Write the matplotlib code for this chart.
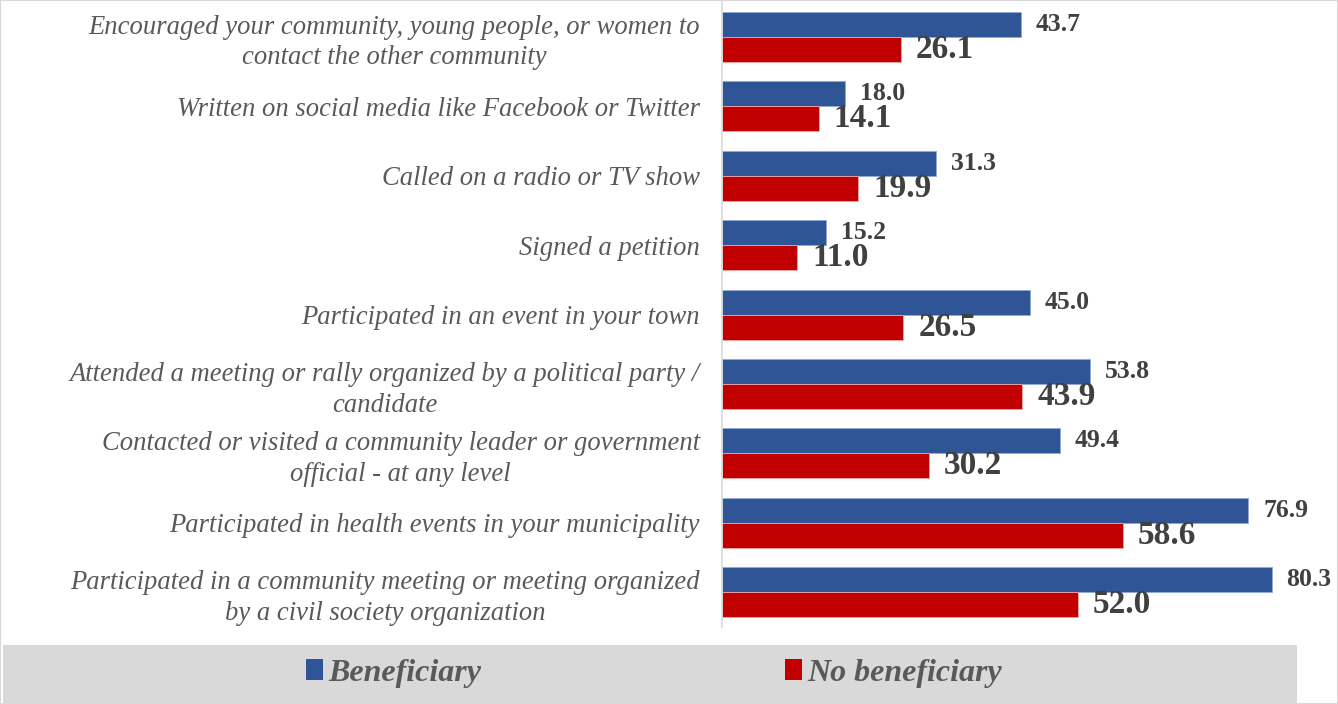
import matplotlib.pyplot as plt
import numpy as np
from matplotlib.patches import Rectangle, Patch


categories = [
    'Encouraged your community, young people, or women to\ncontact the other community',
    'Written on social media like Facebook or Twitter',
    'Called on a radio or TV show',
    'Signed a petition',
    'Participated in an event in your town',
    'Attended a meeting or rally organized by a political party /\ncandidate',
    'Contacted or visited a community leader or government\nofficial - at any level',
    'Participated in health events in your municipality',
    'Participated in a community meeting or meeting organized\nby a civil society organization',
]
beneficiary = [43.7, 18.0, 31.3, 15.2, 45.0, 53.8, 49.4, 76.9, 80.3]
no_beneficiary = [26.1, 14.1, 19.9, 11.0, 26.5, 43.9, 30.2, 58.6, 52.0]

BLUE = '#2F5597'
RED = '#C00000'
LABEL_GREY = '#595959'
VALUE_GREY = '#404040'
LINE_GREY = '#D9D9D9'

plt.rcParams['font.family'] = ['Liberation Serif', 'DejaVu Serif']

W, H = 1338, 704
fig = plt.figure(figsize=(W / 100, H / 100), dpi=100)

# plot area in pixel terms: axis line at x=722, rows from top to y=627
left, right, top, bottom = 722, 1338, 2, 627
ax = fig.add_axes([left / W, 1 - bottom / H, (right - left) / W, (bottom - top) / H])

y = np.arange(len(categories))
bh = 0.36
ax.barh(y - bh / 2, beneficiary, height=bh, color=BLUE, edgecolor='#8FAADC', linewidth=0.6)
ax.barh(y + bh / 2, no_beneficiary, height=bh, color=RED, edgecolor='#F4A6A6', linewidth=0.6)

for yi, b, n in zip(y, beneficiary, no_beneficiary):
    ax.annotate(f'{b:.1f}', (b, yi - bh / 2), xytext=(15, 0), textcoords='offset pixels',
                va='center', ha='left', fontsize=18.5, fontweight='bold', color=VALUE_GREY)
    ax.annotate(f'{n:.1f}', (n, yi + bh / 2), xytext=(15, 0), textcoords='offset pixels',
                va='center', ha='left', fontsize=24, fontweight='bold', color=VALUE_GREY)

ax.set_xlim(0, 90)
ax.set_ylim(len(categories) - 0.5, -0.5)
ax.set_xticks([])
ax.set_yticks(y)
ax.set_yticklabels(categories, fontsize=19.2, style='italic', color=LABEL_GREY, linespacing=1.3)
for lbl in ax.get_yticklabels():
    lbl.set_multialignment('center')
ax.tick_params(axis='y', length=0, pad=16)
for side in ['top', 'right', 'bottom']:
    ax.spines[side].set_visible(False)
ax.spines['left'].set_color(LINE_GREY)
ax.spines['left'].set_linewidth(1.2)

# grey legend band along the bottom
fig.patches.append(Rectangle((3 / W, 0), (1297 - 3) / W, 59 / H, transform=fig.transFigure,
                             facecolor=LINE_GREY, edgecolor='none', zorder=0))
handles = [Patch(facecolor=BLUE), Patch(facecolor=RED)]
fig.legend(handles, ['Beneficiary', 'No beneficiary'], loc='center',
           bbox_to_anchor=(654 / W, 1 - 673 / H), ncol=2, frameon=False,
           prop={'size': 23, 'style': 'italic', 'weight': 'bold'}, labelcolor=LABEL_GREY,
           handlelength=0.53, handleheight=0.62, handletextpad=0.16, columnspacing=9.5)

# thin outer border
fig.patches.append(Rectangle((0, 0), 1, 1, transform=fig.transFigure, fill=False,
                             edgecolor=LINE_GREY, linewidth=1.5))

fig.savefig('out.png', dpi=100)
